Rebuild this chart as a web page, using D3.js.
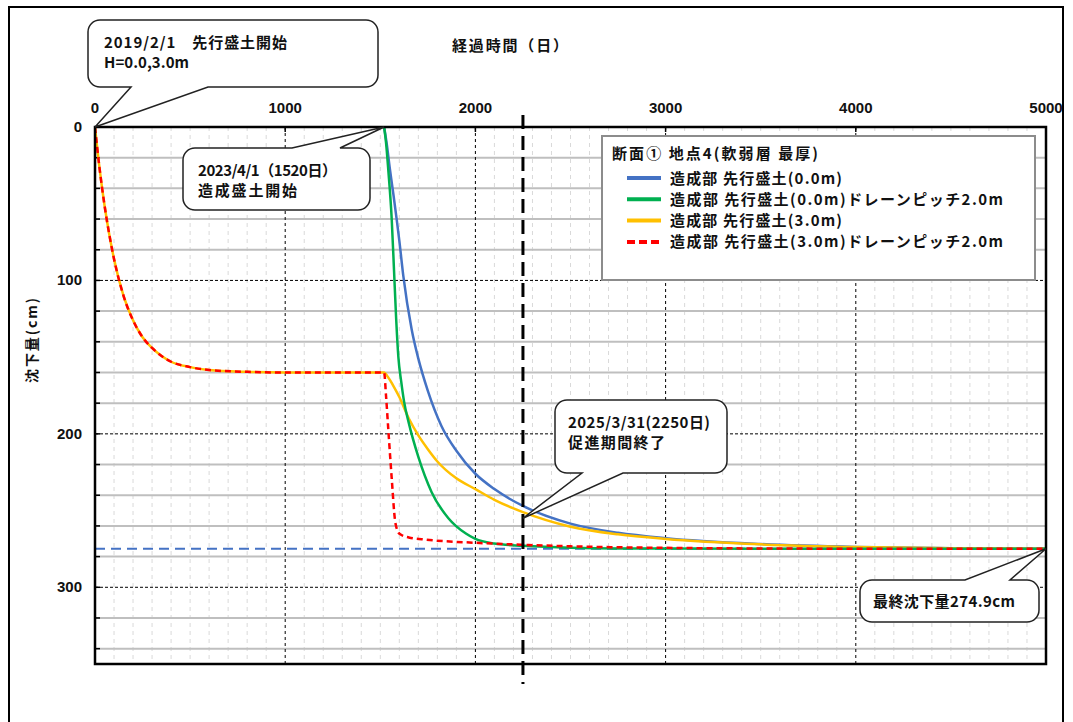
<!DOCTYPE html>
<html>
<head>
<meta charset="utf-8">
<script src="https://cdn.jsdelivr.net/npm/d3@7"></script>
<style>
  body { margin: 0; background: #fff; }
  svg { display: block; }
  .num { font-family: "Liberation Sans Narrow", "Liberation Sans", Arial, sans-serif; font-weight: bold; font-size: 15px; fill: #111; }
  .jp { font-family: "Noto Sans CJK JP", "Noto Sans", sans-serif; font-weight: bold; font-size: 15px; fill: #111; }
</style>
</head>
<body>
<div id="chart"></div>
<script>
// x ticks (days) and y ticks (cm)
var xTicks = [0, 1000, 2000, 3000, 4000, 5000];
var yTicks = [0, 100, 200, 300];
var finalSettlement = 274.9;
var promoEnd = 2250;
var fillStart = 1520;

var seriesNames = [
    "造成部 先行盛土(0.0m)",
    "造成部 先行盛土(0.0m)ドレーンピッチ2.0m",
    "造成部 先行盛土(3.0m)",
    "造成部 先行盛土(3.0m)ドレーンピッチ2.0m"
];

// [day, settlement cm]
var blueData = [[1520, 0], [1535, 12], [1550, 27], [1570, 45], [1586, 60], [1600, 74], [1621, 97], [1665, 132],
    [1700, 151], [1750, 172], [1822, 195], [1900, 211], [2000, 226], [2100, 236], [2250, 247], [2500, 258.5],
    [2750, 264.5], [3000, 268], [3500, 271.8], [4000, 273.7], [4500, 274.5], [5000, 274.9]];

var greenData = [[1520, 0], [1530, 10], [1542, 28], [1560, 60], [1572, 93], [1583, 124], [1595, 150], [1610, 166],
    [1625, 179], [1650, 193], [1700, 215], [1770, 238], [1858, 255], [1950, 265], [2000, 268.5], [2100, 271.5],
    [2250, 273], [2500, 274.2], [3000, 274.8], [5000, 274.9]];

var preloadData = [[0, 0], [25, 28], [50, 51], [75, 70], [100, 86], [150, 110], [200, 126], [250, 137], [300, 144],
    [400, 153], [500, 156.5], [600, 158.4], [800, 159.6], [1000, 160], [1520, 160]];

var yellowData = preloadData.concat([[1540, 163], [1570, 169], [1600, 176], [1650, 190], [1700, 201], [1750, 210],
    [1800, 218], [1900, 229], [2000, 236], [2100, 243], [2250, 251], [2500, 260.5], [2750, 265.5], [3000, 268.5],
    [3500, 272], [4000, 273.8], [4500, 274.5], [5000, 274.9]]);

var redData = preloadData.concat([[1530, 175], [1542, 197], [1560, 229], [1577, 256], [1590, 263], [1603, 265.3],
    [1650, 267.5], [1744, 269], [2000, 271], [2250, 272.3], [2500, 273.3], [3000, 274.3], [3500, 274.7],
    [4000, 274.85], [5000, 274.9]]);

var colors = ["#4472C4", "#00B050", "#FFC000", "#FF0000"];

var totalWidth = 1073,
    totalHeight = 722,
    mLeft = 95,
    mTop = 127,
    width = 951,
    height = 537;

var xScale = d3.scaleLinear().domain([0, 5000]).range([mLeft, mLeft + width]);
var yScale = d3.scaleLinear().domain([0, 350]).range([mTop, mTop + height]);

var svg = d3.select("#chart").append("svg")
    .attr("width", totalWidth)
    .attr("height", totalHeight);

// outer frame
svg.append("rect")
    .attr("x", 9).attr("y", 7)
    .attr("width", 1054).attr("height", 740)
    .attr("fill", "none").attr("stroke", "#000").attr("stroke-width", 2);

var grid = svg.append("g");

// minor vertical, every 100 days
grid.selectAll(".vminor").data(d3.range(100, 5000, 100).filter(function(d) { return d % 1000; }))
    .enter().append("line")
    .attr("x1", function(d) { return xScale(d); }).attr("x2", function(d) { return xScale(d); })
    .attr("y1", mTop).attr("y2", mTop + height)
    .attr("stroke", "#d9d9d9").attr("stroke-width", 1).attr("stroke-dasharray", "4,4");

// horizontal gray every 20 cm
grid.selectAll(".hminor").data(d3.range(20, 350, 20).filter(function(d) { return d % 100; }))
    .enter().append("line")
    .attr("x1", mLeft).attr("x2", mLeft + width)
    .attr("y1", function(d) { return yScale(d); }).attr("y2", function(d) { return yScale(d); })
    .attr("stroke", "#bfbfbf").attr("stroke-width", 2);

// left ticks every 20 cm
grid.selectAll(".ltick").data(d3.range(20, 350, 20))
    .enter().append("line")
    .attr("x1", mLeft).attr("x2", mLeft + 5)
    .attr("y1", function(d) { return yScale(d); }).attr("y2", function(d) { return yScale(d); })
    .attr("stroke", "#000").attr("stroke-width", 1.5);

// major grid (dotted black)
grid.selectAll(".vmajor").data(xTicks.slice(1, -1))
    .enter().append("line")
    .attr("x1", function(d) { return xScale(d); }).attr("x2", function(d) { return xScale(d); })
    .attr("y1", mTop).attr("y2", mTop + height)
    .attr("stroke", "#000").attr("stroke-width", 1).attr("stroke-dasharray", "3,3");

grid.selectAll(".hmajor").data(yTicks.slice(1))
    .enter().append("line")
    .attr("x1", mLeft).attr("x2", mLeft + width)
    .attr("y1", function(d) { return yScale(d); }).attr("y2", function(d) { return yScale(d); })
    .attr("stroke", "#000").attr("stroke-width", 1).attr("stroke-dasharray", "3,2");

// final settlement line
svg.append("line")
    .attr("x1", mLeft).attr("x2", mLeft + width)
    .attr("y1", yScale(finalSettlement)).attr("y2", yScale(finalSettlement))
    .attr("stroke", colors[0]).attr("stroke-width", 2).attr("stroke-dasharray", "10,6");

var line = d3.line()
    .x(function(d) { return xScale(d[0]); })
    .y(function(d) { return yScale(d[1]); })
    .curve(d3.curveMonotoneX);

svg.append("clipPath").attr("id", "clip")
    .append("rect").attr("x", mLeft).attr("y", mTop - 2).attr("width", width).attr("height", height + 2);

var curves = svg.append("g").attr("clip-path", "url(#clip)");
curves.append("path").datum(blueData).attr("d", line)
    .attr("fill", "none").attr("stroke", colors[0]).attr("stroke-width", 2.5);
curves.append("path").datum(yellowData).attr("d", line)
    .attr("fill", "none").attr("stroke", colors[2]).attr("stroke-width", 2.5);
curves.append("path").datum(greenData).attr("d", line)
    .attr("fill", "none").attr("stroke", colors[1]).attr("stroke-width", 2.5);
curves.append("path").datum(redData).attr("d", line)
    .attr("fill", "none").attr("stroke", colors[3]).attr("stroke-width", 2.5).attr("stroke-dasharray", "6,4");

// plot border
svg.append("rect")
    .attr("x", mLeft).attr("y", mTop).attr("width", width).attr("height", height)
    .attr("fill", "none").attr("stroke", "#000").attr("stroke-width", 2.5);

// top ticks
svg.selectAll(".ttick").data(xTicks.slice(1, -1))
    .enter().append("line")
    .attr("x1", function(d) { return xScale(d); }).attr("x2", function(d) { return xScale(d); })
    .attr("y1", mTop).attr("y2", mTop + 5)
    .attr("stroke", "#000").attr("stroke-width", 1.5);

// end of promotion period
svg.append("line")
    .attr("x1", xScale(promoEnd)).attr("x2", xScale(promoEnd))
    .attr("y1", mTop - 12).attr("y2", 684)
    .attr("stroke", "#000").attr("stroke-width", 3).attr("stroke-dasharray", "14,7");

// axis labels
svg.selectAll(".xl").data(xTicks).enter().append("text")
    .attr("class", "num")
    .attr("x", function(d) { return xScale(d); })
    .attr("y", mTop - 14)
    .attr("text-anchor", "middle")
    .text(function(d) { return d; });

svg.selectAll(".yl").data(yTicks).enter().append("text")
    .attr("class", "num")
    .attr("x", 82)
    .attr("y", function(d) { return yScale(d) + 5; })
    .attr("text-anchor", "end")
    .text(function(d) { return d; });

svg.append("text").attr("class", "jp")
    .attr("x", 452).attr("y", 51)
    .attr("textLength", 116).attr("lengthAdjust", "spacing")
    .text("経過時間（日）");

svg.append("text").attr("class", "jp")
    .attr("transform", "translate(37,383) rotate(-90)")
    .style("font-size", "14px")
    .attr("textLength", 85).attr("lengthAdjust", "spacing")
    .text("沈下量(cm)");

// legend
var legend = svg.append("g");
legend.append("rect")
    .attr("x", 602).attr("y", 136).attr("width", 433).attr("height", 144)
    .attr("fill", "#fff").attr("stroke", "#8c8c8c").attr("stroke-width", 2);
legend.append("text").attr("class", "jp")
    .attr("x", 612).attr("y", 159)
    .attr("textLength", 206).attr("lengthAdjust", "spacing")
    .text("断面① 地点4(軟弱層 最厚)");

var rowWidths = [172, 333, 172, 333];
var rows = legend.selectAll(".row").data(seriesNames).enter().append("g")
    .attr("transform", function(d, i) { return "translate(0," + (178 + i * 21.3) + ")"; });
rows.append("line")
    .attr("x1", 627).attr("x2", 661).attr("y1", 0).attr("y2", 0)
    .attr("stroke", function(d, i) { return colors[i]; })
    .attr("stroke-width", 4)
    .attr("stroke-dasharray", function(d, i) { return i === 3 ? "8,4" : null; });
rows.append("text").attr("class", "jp")
    .attr("x", 670).attr("y", 5.5)
    .attr("textLength", function(d, i) { return rowWidths[i]; })
    .attr("lengthAdjust", "spacing")
    .text(function(d) { return d; });

// callouts
function calloutPath(b) {
    var x = b.x, y = b.y, w = b.w, h = b.h, r = 12;
    var p = "M" + (x + r) + "," + y;
    if (b.side === "top") p += "L" + b.a1 + "," + y + "L" + b.tx + "," + b.ty + "L" + b.a2 + "," + y;
    p += "L" + (x + w - r) + "," + y + "A" + r + "," + r + " 0 0 1 " + (x + w) + "," + (y + r);
    p += "L" + (x + w) + "," + (y + h - r) + "A" + r + "," + r + " 0 0 1 " + (x + w - r) + "," + (y + h);
    if (b.side === "bottom") p += "L" + b.a2 + "," + (y + h) + "L" + b.tx + "," + b.ty + "L" + b.a1 + "," + (y + h);
    p += "L" + (x + r) + "," + (y + h) + "A" + r + "," + r + " 0 0 1 " + x + "," + (y + h - r);
    p += "L" + x + "," + (y + r) + "A" + r + "," + r + " 0 0 1 " + (x + r) + "," + y + "Z";
    return p;
}

var callouts = [
    { x: 88, y: 20, w: 290, h: 67, side: "bottom", a1: 131, a2: 208, tx: xScale(0), ty: yScale(0), tx0: 104,
      lines: ["2019/2/1\u3000先行盛土開始", "H=0.0,3.0m"], widths: [183, 85] },
    { x: 183, y: 148, w: 187, h: 62, side: "top", a1: 292, a2: 340, tx: xScale(fillStart), ty: yScale(0), tx0: 198,
      lines: ["2023/4/1（1520日）", "造成盛土開始"], widths: [139, 99] },
    { x: 555, y: 400, w: 172, h: 73, side: "bottom", a1: 582, a2: 623, tx: xScale(promoEnd), ty: yScale(255), tx0: 568,
      lines: ["2025/3/31(2250日)", "促進期間終了"], widths: [142, 97] },
    { x: 860, y: 580, w: 179, h: 42, side: "top", a1: 965, a2: 1010, tx: xScale(5000), ty: yScale(finalSettlement), tx0: 873,
      lines: ["最終沈下量274.9cm"], widths: [142] }
];

var co = svg.selectAll(".callout").data(callouts).enter().append("g");
co.append("path")
    .attr("d", calloutPath)
    .attr("fill", "#fff").attr("stroke", "#222").attr("stroke-width", 1.5);
co.each(function(b) {
    var g = d3.select(this);
    b.lines.forEach(function(t, i) {
        g.append("text").attr("class", "jp")
            .attr("x", b.tx0)
            .attr("y", b.y + (b.lines.length === 1 ? 27 : 28 + i * 20))
            .attr("textLength", b.widths[i]).attr("lengthAdjust", "spacing")
            .text(t);
    });
});
</script>
</body>
</html>
